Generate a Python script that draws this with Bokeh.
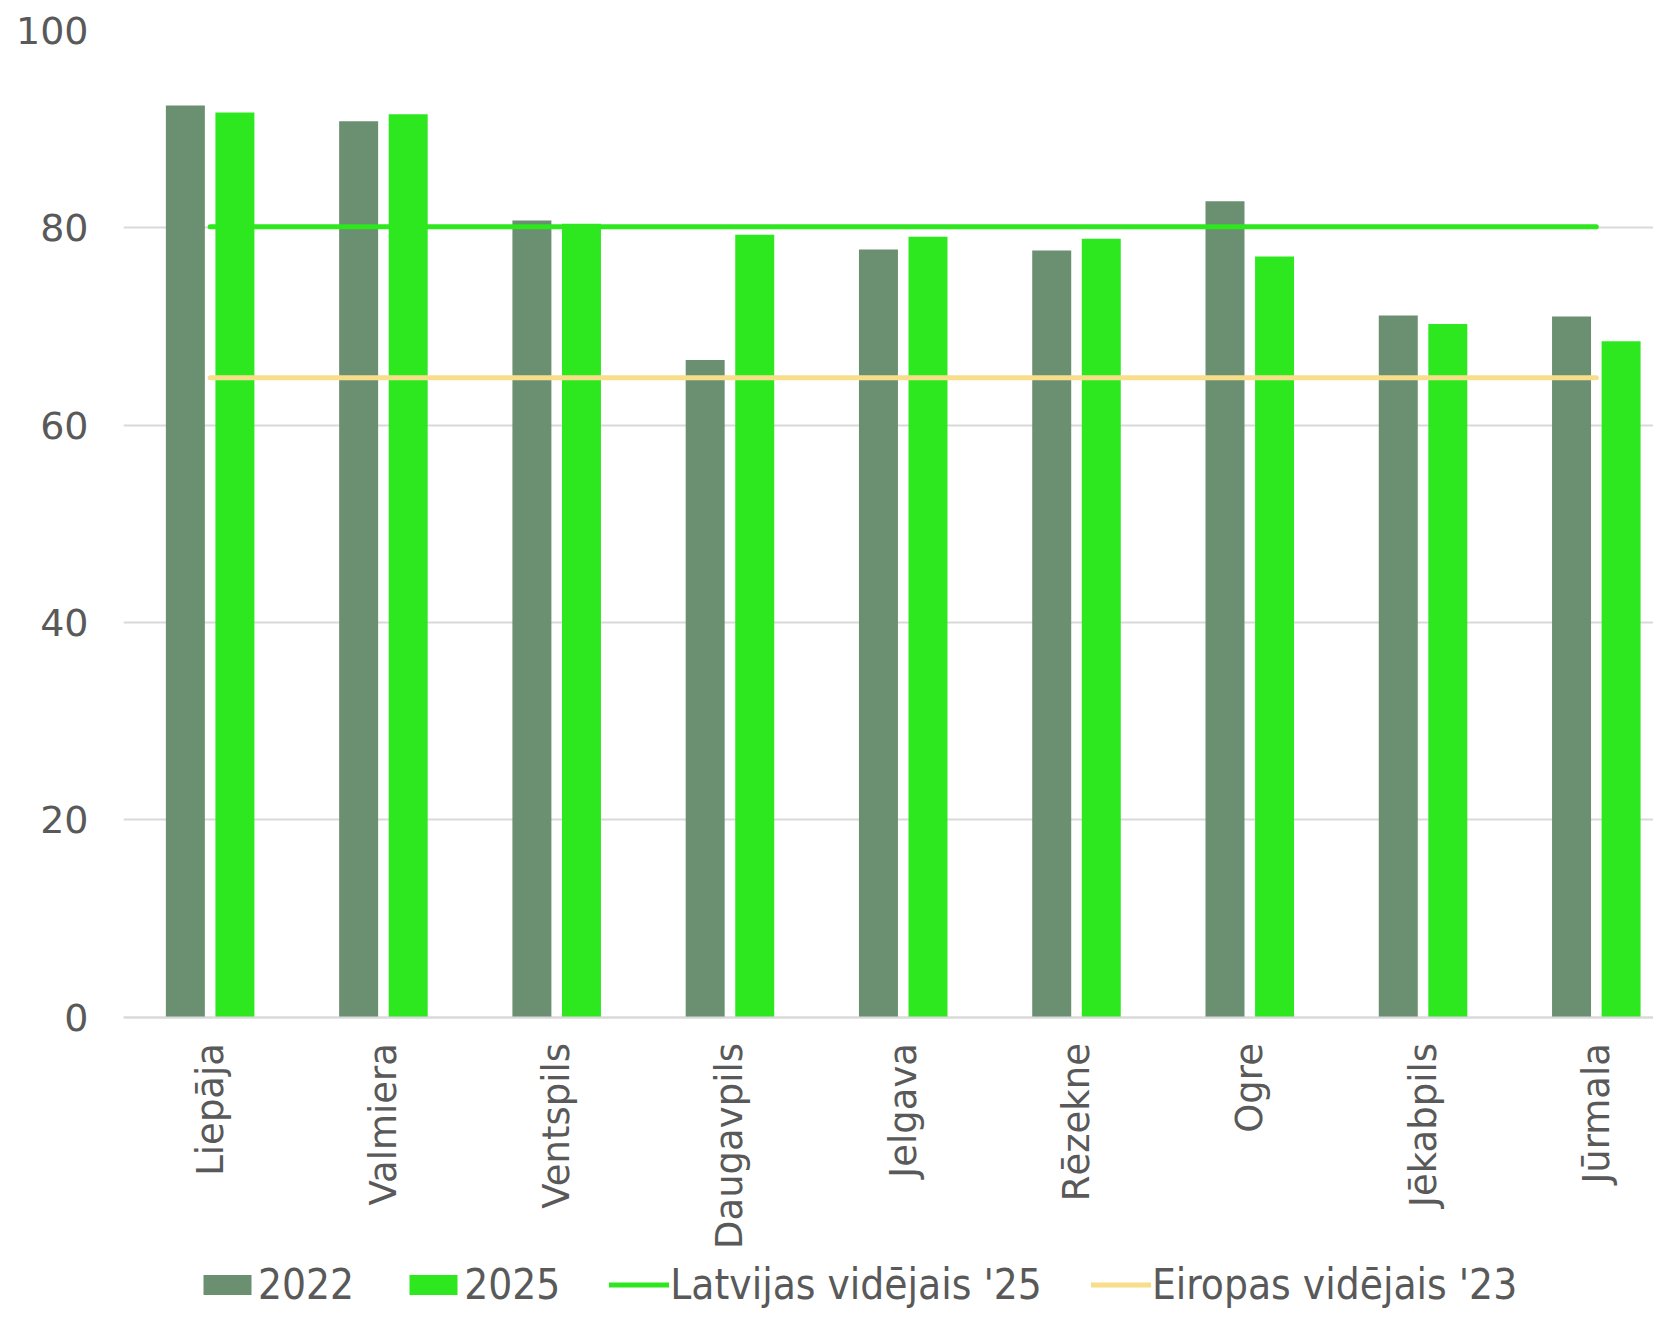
import math
from bokeh.plotting import figure
from bokeh.models import Range1d, FixedTicker, ColumnDataSource, Legend, LegendItem
from bokeh.transform import dodge
from bokeh.embed import file_html
from bokeh.resources import INLINE

# ---- data ----
cities = ["Liepāja", "Valmiera", "Ventspils", "Daugavpils", "Jelgava",
          "Rēzekne", "Ogre", "Jēkabpils", "Jūrmala"]
v2022 = [92.4, 90.8, 80.75, 66.6, 77.8, 77.7, 82.7, 71.1, 71.0]
v2025 = [91.7, 91.5, 80.4, 79.3, 79.1, 78.9, 77.1, 70.25, 68.5]
latvia_avg_25 = 80.1
europe_avg_23 = 64.8
y_ticks = [0, 20, 40, 60, 80, 100]
series_names = ["2022", "2025", "Latvijas vidējais '25", "Eiropas vidējais '23"]

# ---- styles ----
C2022 = "#6b8f71"
C2025 = "#2ee81f"
CEU = "#f8de8a"
GRID = "#d9d9d9"
TXT = "#595959"

pos = list(range(len(cities)))
src = ColumnDataSource(dict(
    x=pos, city=cities, v2022=v2022, v2025=v2025,
    lat=[latvia_avg_25] * len(cities), eu=[europe_avg_23] * len(cities)))

# frame extends below the zero line so the category labels and legend sit inside it
p = figure(width=1653, height=1309,
           x_range=Range1d(-0.5, len(cities) - 0.67),
           y_range=Range1d(-29.65, 100),
           output_backend="svg", toolbar_location=None,
           min_border_left=123, min_border_right=0,
           min_border_top=30, min_border_bottom=0)
p.outline_line_color = None
p.background_fill_color = "white"

r1 = p.vbar(x=dodge("x", -0.143, range=p.x_range), top="v2022", width=0.225,
            source=src, fill_color=C2022, line_color=None)
r2 = p.vbar(x=dodge("x", 0.143, range=p.x_range), top="v2025", width=0.225,
            source=src, fill_color=C2025, line_color=None)
r3 = p.line("x", "lat", source=src, line_color=C2025, line_width=5, line_cap="round")
r4 = p.line("x", "eu", source=src, line_color=CEU, line_width=5, line_cap="round")

# axes
p.xgrid.visible = False
p.ygrid.ticker = FixedTicker(ticks=y_ticks)
p.ygrid.grid_line_color = GRID
p.ygrid.grid_line_width = 2

p.yaxis.ticker = FixedTicker(ticks=y_ticks)
p.yaxis.axis_line_color = None
p.yaxis.major_tick_line_color = None
p.yaxis.minor_tick_line_color = None
p.yaxis.major_label_text_font = "DejaVu Sans"
p.yaxis.major_label_text_font_size = "38px"
p.yaxis.major_label_text_color = TXT
p.yaxis.major_label_standoff = 29

p.xaxis.fixed_location = 0
p.xaxis.ticker = FixedTicker(ticks=pos)
p.xaxis.major_label_overrides = {i: c for i, c in enumerate(cities)}
p.xaxis.axis_line_color = GRID
p.xaxis.axis_line_width = 2
p.xaxis.major_tick_line_color = None
p.xaxis.minor_tick_line_color = None
p.xaxis.major_label_orientation = math.pi / 2
p.xaxis.major_label_text_font = "DejaVu Sans"
p.xaxis.major_label_text_font_size = "37px"
p.xaxis.major_label_text_color = TXT
p.xaxis.major_label_standoff = 20

legend = Legend(items=[LegendItem(label=series_names[0], renderers=[r1]),
                       LegendItem(label=series_names[1], renderers=[r2]),
                       LegendItem(label=series_names[2], renderers=[r3]),
                       LegendItem(label=series_names[3], renderers=[r4])],
                location=(74, 0), orientation="horizontal",
                glyph_width=60, glyph_height=25, label_standoff=1, spacing=49,
                padding=0, margin=0, border_line_color=None, background_fill_alpha=0,
                label_text_font="DejaVu Sans Condensed", label_text_font_size="42px",
                label_text_color=TXT)
p.add_layout(legend, "center")

open("out.html", "w").write(file_html(p, INLINE))
